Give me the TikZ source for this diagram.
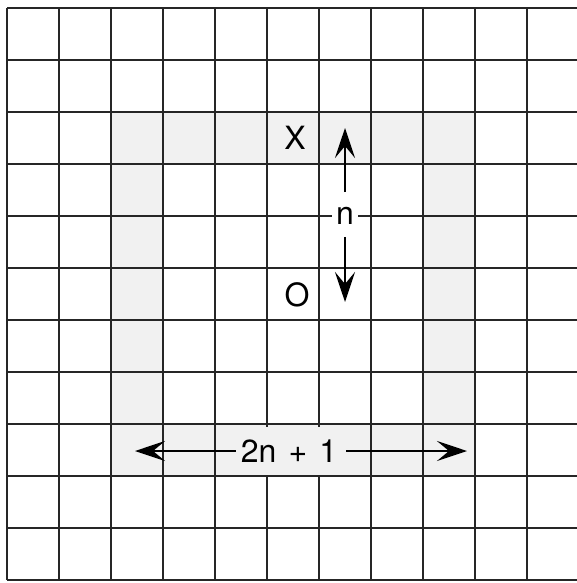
\documentclass[tikz,border=0pt]{standalone}
\usepackage{fontspec}
\setmainfont{TeX Gyre Heros}
\usetikzlibrary{arrows.meta}
\definecolor{bandgray}{HTML}{F1F1F1}
\begin{document}
\begin{tikzpicture}[x=1pt,y=-1pt,
  gridline/.style={draw=black!85, line width=1.3pt},
  arr/.style={-{Stealth[length=30pt,width=20pt,inset=12pt]}, line width=2.8pt},
  lbl/.style={font=\fontsize{32}{38}\selectfont, inner sep=0pt},
]
\path[use as bounding box, fill=white] (0,0) rectangle (577,583);
\fill[bandgray, even odd rule] (111,112) rectangle (475,476) (163,164) rectangle (423,424);
\foreach \k in {0,...,10} \draw[gridline] ({7+52*\k},8) -- ({7+52*\k},580);
\foreach \k in {0,...,11} \draw[gridline] (7,{8+52*\k}) -- (577,{8+52*\k});
\node[lbl] (X) at (295,137.5) {X};
\node[lbl] (O) at (297,295) {O};
\node[lbl, fill=white, inner xsep=4pt, inner ysep=3pt] (n) at (345,216) {n};
\coordinate (ntop) at (345,128);
\coordinate (nbot) at (345,302);
\draw[arr, shorten <=12pt] (n) -- (ntop);
\draw[arr, shorten <=9pt] (n) -- (nbot);
\node[lbl, fill=bandgray, inner xsep=4pt, minimum height=48pt] (w) at (289,451) {2n\hspace{0.1em} +\hspace{0.1em} 1};
\coordinate (wl) at (135,451);
\coordinate (wr) at (467,451);
\draw[arr, shorten <=1pt] (w) -- (wl);
\draw[arr, shorten <=5pt] (w) -- (wr);
\end{tikzpicture}
\end{document}
